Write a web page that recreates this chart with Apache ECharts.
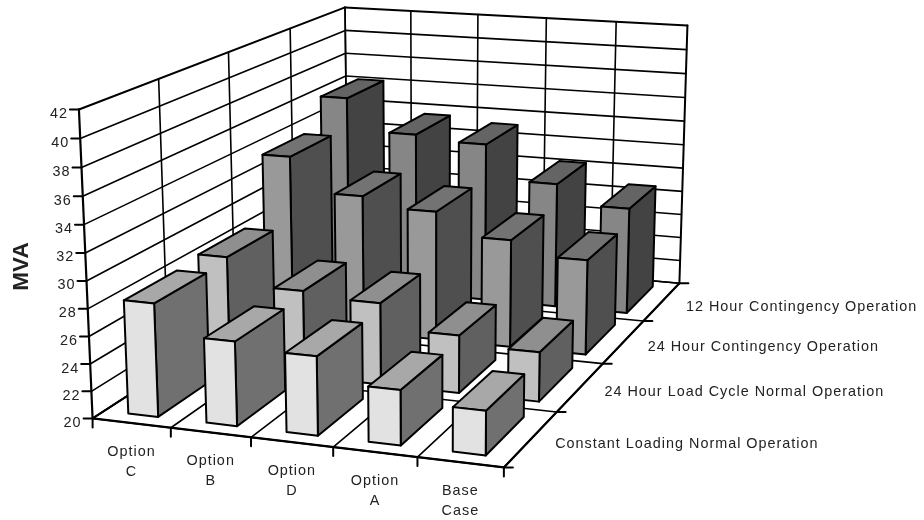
<!DOCTYPE html>
<html><head><meta charset="utf-8">
<style>html,body{margin:0;padding:0;background:#fff}#c{width:924px;height:520px}</style>
<script src="https://cdn.jsdelivr.net/npm/echarts@6/dist/echarts.min.js"></script>
</head><body><div id="c"></div>
<script>
const categories = ['Option\nC','Option\nB','Option\nD','Option\nA','Base\nCase'];
const yTicks = [20,22,24,26,28,30,32,34,36,38,40,42];
const rows = ['Constant Loading Normal Operation','24 Hour Load Cycle Normal Operation','24 Hour Contingency Operation','12 Hour Contingency Operation'];
const constantLoading = [28.3,26.15,25.7,23.95,23.15];
const loadCycle = [28.6,26.55,26.2,24.35,23.7];
const contingency24 = [33.7,31,30.25,28.5,27.45];
const contingency12 = [36.15,33.5,33.1,30.25,28.7];
const rowValues = [constantLoading,loadCycle,contingency24,contingency12];
const faceColors = [
  ['#e2e2e2','#a8a8a8','#707070'],
  ['#c0c0c0','#8f8f8f','#606060'],
  ['#999999','#737373','#4f4f4f'],
  ['#868686','#646464','#434343']
];
// Camera calibration: cube coords (u,v,w) -> screen
const calib = [
 [0,0,0,93,418],[.2,0,0,171,428],[.4,0,0,251,438],[.6,0,0,333,448],[.8,0,0,417,457],[1,0,0,503,467],
 [1,.25,0,557,412],[1,.5,0,603,363],[1,.75,0,644,321],[1,1,0,679,283],
 [0,0,1,79,109],[0,.25,1,159,79],[0,.5,1,229,52],[0,.75,1,289,28],[0,1,1,345,8],
 [.2,1,1,411,11],[.4,1,1,477,14],[.6,1,1,547,18],[.8,1,1,617,22],[1,1,1,687,26]
];
function solve(A,b){const n=b.length;for(let i=0;i<n;i++){let p=i;for(let r=i+1;r<n;r++)if(Math.abs(A[r][i])>Math.abs(A[p][i]))p=r;
 [A[i],A[p]]=[A[p],A[i]];[b[i],b[p]]=[b[p],b[i]];for(let r=i+1;r<n;r++){const f=A[r][i]/A[i][i];for(let c=i;c<n;c++)A[r][c]-=f*A[i][c];b[r]-=f*b[i];}}
 const x=new Array(n).fill(0);for(let i=n-1;i>=0;i--){let s=b[i];for(let c=i+1;c<n;c++)s-=A[i][c]*x[c];x[i]=s/A[i][i];}return x;}
const cam=(function(){const N=11,M=[],B=new Array(N).fill(0);for(let i=0;i<N;i++)M.push(new Array(N).fill(0));
 function add(r,t){for(let i=0;i<N;i++){B[i]+=r[i]*t;for(let j=0;j<N;j++)M[i][j]+=r[i]*r[j];}}
 calib.forEach(([u,v,w,x,y])=>{const sx=x/500,sy=y/500;
  add([u,v,w,1,0,0,0,0,-sx*u,-sx*v,-sx*w],sx);
  add([0,0,0,0,u,v,w,1,-sy*u,-sy*v,-sy*w],sy);});
 return solve(M,B);})();
function P(u,v,w){const d=cam[8]*u+cam[9]*v+cam[10]*w+1;
 return [500*(cam[0]*u+cam[1]*v+cam[2]*w+cam[3])/d,500*(cam[4]*u+cam[5]*v+cam[6]*w+cam[7])/d];}

const INK='#000';
function seg(a,b,lw){return {type:'line',shape:{x1:a[0],y1:a[1],x2:b[0],y2:b[1]},style:{stroke:INK,lineWidth:lw||1.6,lineCap:'round'},silent:true};}
function txt(s,x,y,align,font,extra){return Object.assign({type:'text',x:x,y:y,silent:true,style:{text:s,x:0,y:0,fill:'#222',align:align,verticalAlign:'middle',font:font||'14.4px "Liberation Sans"',lineHeight:20}},extra||{});}

function renderFrame(params,api){
 const ch=[];const nC=categories.length,nR=rows.length,nY=yTicks.length-1;
 for(let k=0;k<=nY;k++){const w=k/nY;
  ch.push(seg(P(0,0,w),P(0,1,w),k===nY?2:1.6));
  ch.push(seg(P(0,1,w),P(1,1,w),k===nY?2:1.6));}
 for(let k=0;k<=nC;k++){const u=k/nC;
  ch.push(seg(P(u,0,0),P(u,1,0)));
  ch.push(seg(P(u,1,0),P(u,1,1),k===nC?2:1.6));}
 for(let k=0;k<=nR;k++){const v=k/nR;
  ch.push(seg(P(0,v,0),P(1,v,0)));
  ch.push(seg(P(0,v,0),P(0,v,1),k===0?2.2:1.6));}
 ch.push(seg(P(0,0,0),P(1,0,0),2.2));ch.push(seg(P(1,0,0),P(1,1,0),2.2));ch.push(seg(P(0,0,0),P(0,1,0),2.2));
 yTicks.forEach((t,k)=>{const p=P(0,0,k/nY);ch.push(seg(p,[p[0]-9,p[1]],2));
  ch.push(txt(String(t),p[0]-11,p[1]+4.5,'right'));});
 categories.forEach((c,k)=>{const p=P(k/nC,0,0);ch.push(seg(p,[p[0],p[1]+9],2));
  const m=P((k+.5)/nC,0,0);ch.push(txt(c,m[0],m[1]+39,'center'));});
 {const p=P(1,0,0);ch.push(seg(p,[p[0],p[1]+9],2));}
 rows.forEach((r,k)=>{const p=P(1,k/nR,0);ch.push(seg(p,[p[0]+9,p[1]],2));
  const m=P(1,(k+.5)/nR,0);ch.push(txt(r,m[0]+24,m[1]+5,'left'));});
 {const p=P(1,1,0);ch.push(seg(p,[p[0]+9,p[1]],2));}
 ch.push(txt('MVA',22,266.5,'center','bold 22.5px "Liberation Sans"',{rotation:Math.PI/2}));
 return {type:'group',children:ch};
}
const BAR_W=.385,BAR_D=.7;
function renderRow(r){return function(params,api){
 const i=api.value(0),val=api.value(1);
 const band=api.size([1,0])[0],base=api.coord([0,yTicks[0]]),topY=api.coord([0,yTicks[yTicks.length-1]])[1];
 const left=base[0]-band/2,uc=(api.coord([i,yTicks[0]])[0]-left)/(band*categories.length);
 const w=(base[1]-api.coord([0,val])[1])/(base[1]-topY);
 const hu=BAR_W/2/categories.length,hv=BAR_D/2/rows.length,vc=(r+.5)/rows.length;
 const u0=uc-hu,u1=uc+hu,v0=vc-hv,v1=vc+hv;
 const c=faceColors[r];
 const poly=(pts,f)=>({type:'polygon',shape:{points:pts},style:{fill:f,stroke:INK,lineWidth:2,lineJoin:'round'}});
 return {type:'group',children:[
  poly([P(u1,v0,0),P(u1,v1,0),P(u1,v1,w),P(u1,v0,w)],c[2]),
  poly([P(u0,v0,w),P(u1,v0,w),P(u1,v1,w),P(u0,v1,w)],c[1]),
  poly([P(u0,v0,0),P(u1,v0,0),P(u1,v0,w),P(u0,v0,w)],c[0])
 ]};
};}
// letter-spaced labels, as in the reference
const _ft=CanvasRenderingContext2D.prototype.fillText;
CanvasRenderingContext2D.prototype.fillText=function(){this.letterSpacing=/bold/.test(this.font)?'0px':'1px';return _ft.apply(this,arguments);};

const chart=echarts.init(document.getElementById('c'),null,{renderer:'canvas'});
const series=[{type:'custom',coordinateSystem:'cartesian2d',data:[[0,yTicks[0]]],renderItem:renderFrame,clip:false,animation:false,silent:true,z:1}];
for(let r=rows.length-1;r>=0;r--){
 series.push({type:'custom',name:rows[r],coordinateSystem:'cartesian2d',clip:false,animation:false,silent:true,z:10+(rows.length-r),
  data:rowValues[r].map((v,i)=>[i,v]),encode:{x:0,y:1},renderItem:renderRow(r)});
}
chart.setOption({animation:false,backgroundColor:'#fff',
 grid:{left:100,right:100,top:50,bottom:50},
 xAxis:{type:'category',data:categories,show:false},
 yAxis:{type:'value',min:20,max:42,interval:2,show:false},
 series:series});
</script></body></html>
